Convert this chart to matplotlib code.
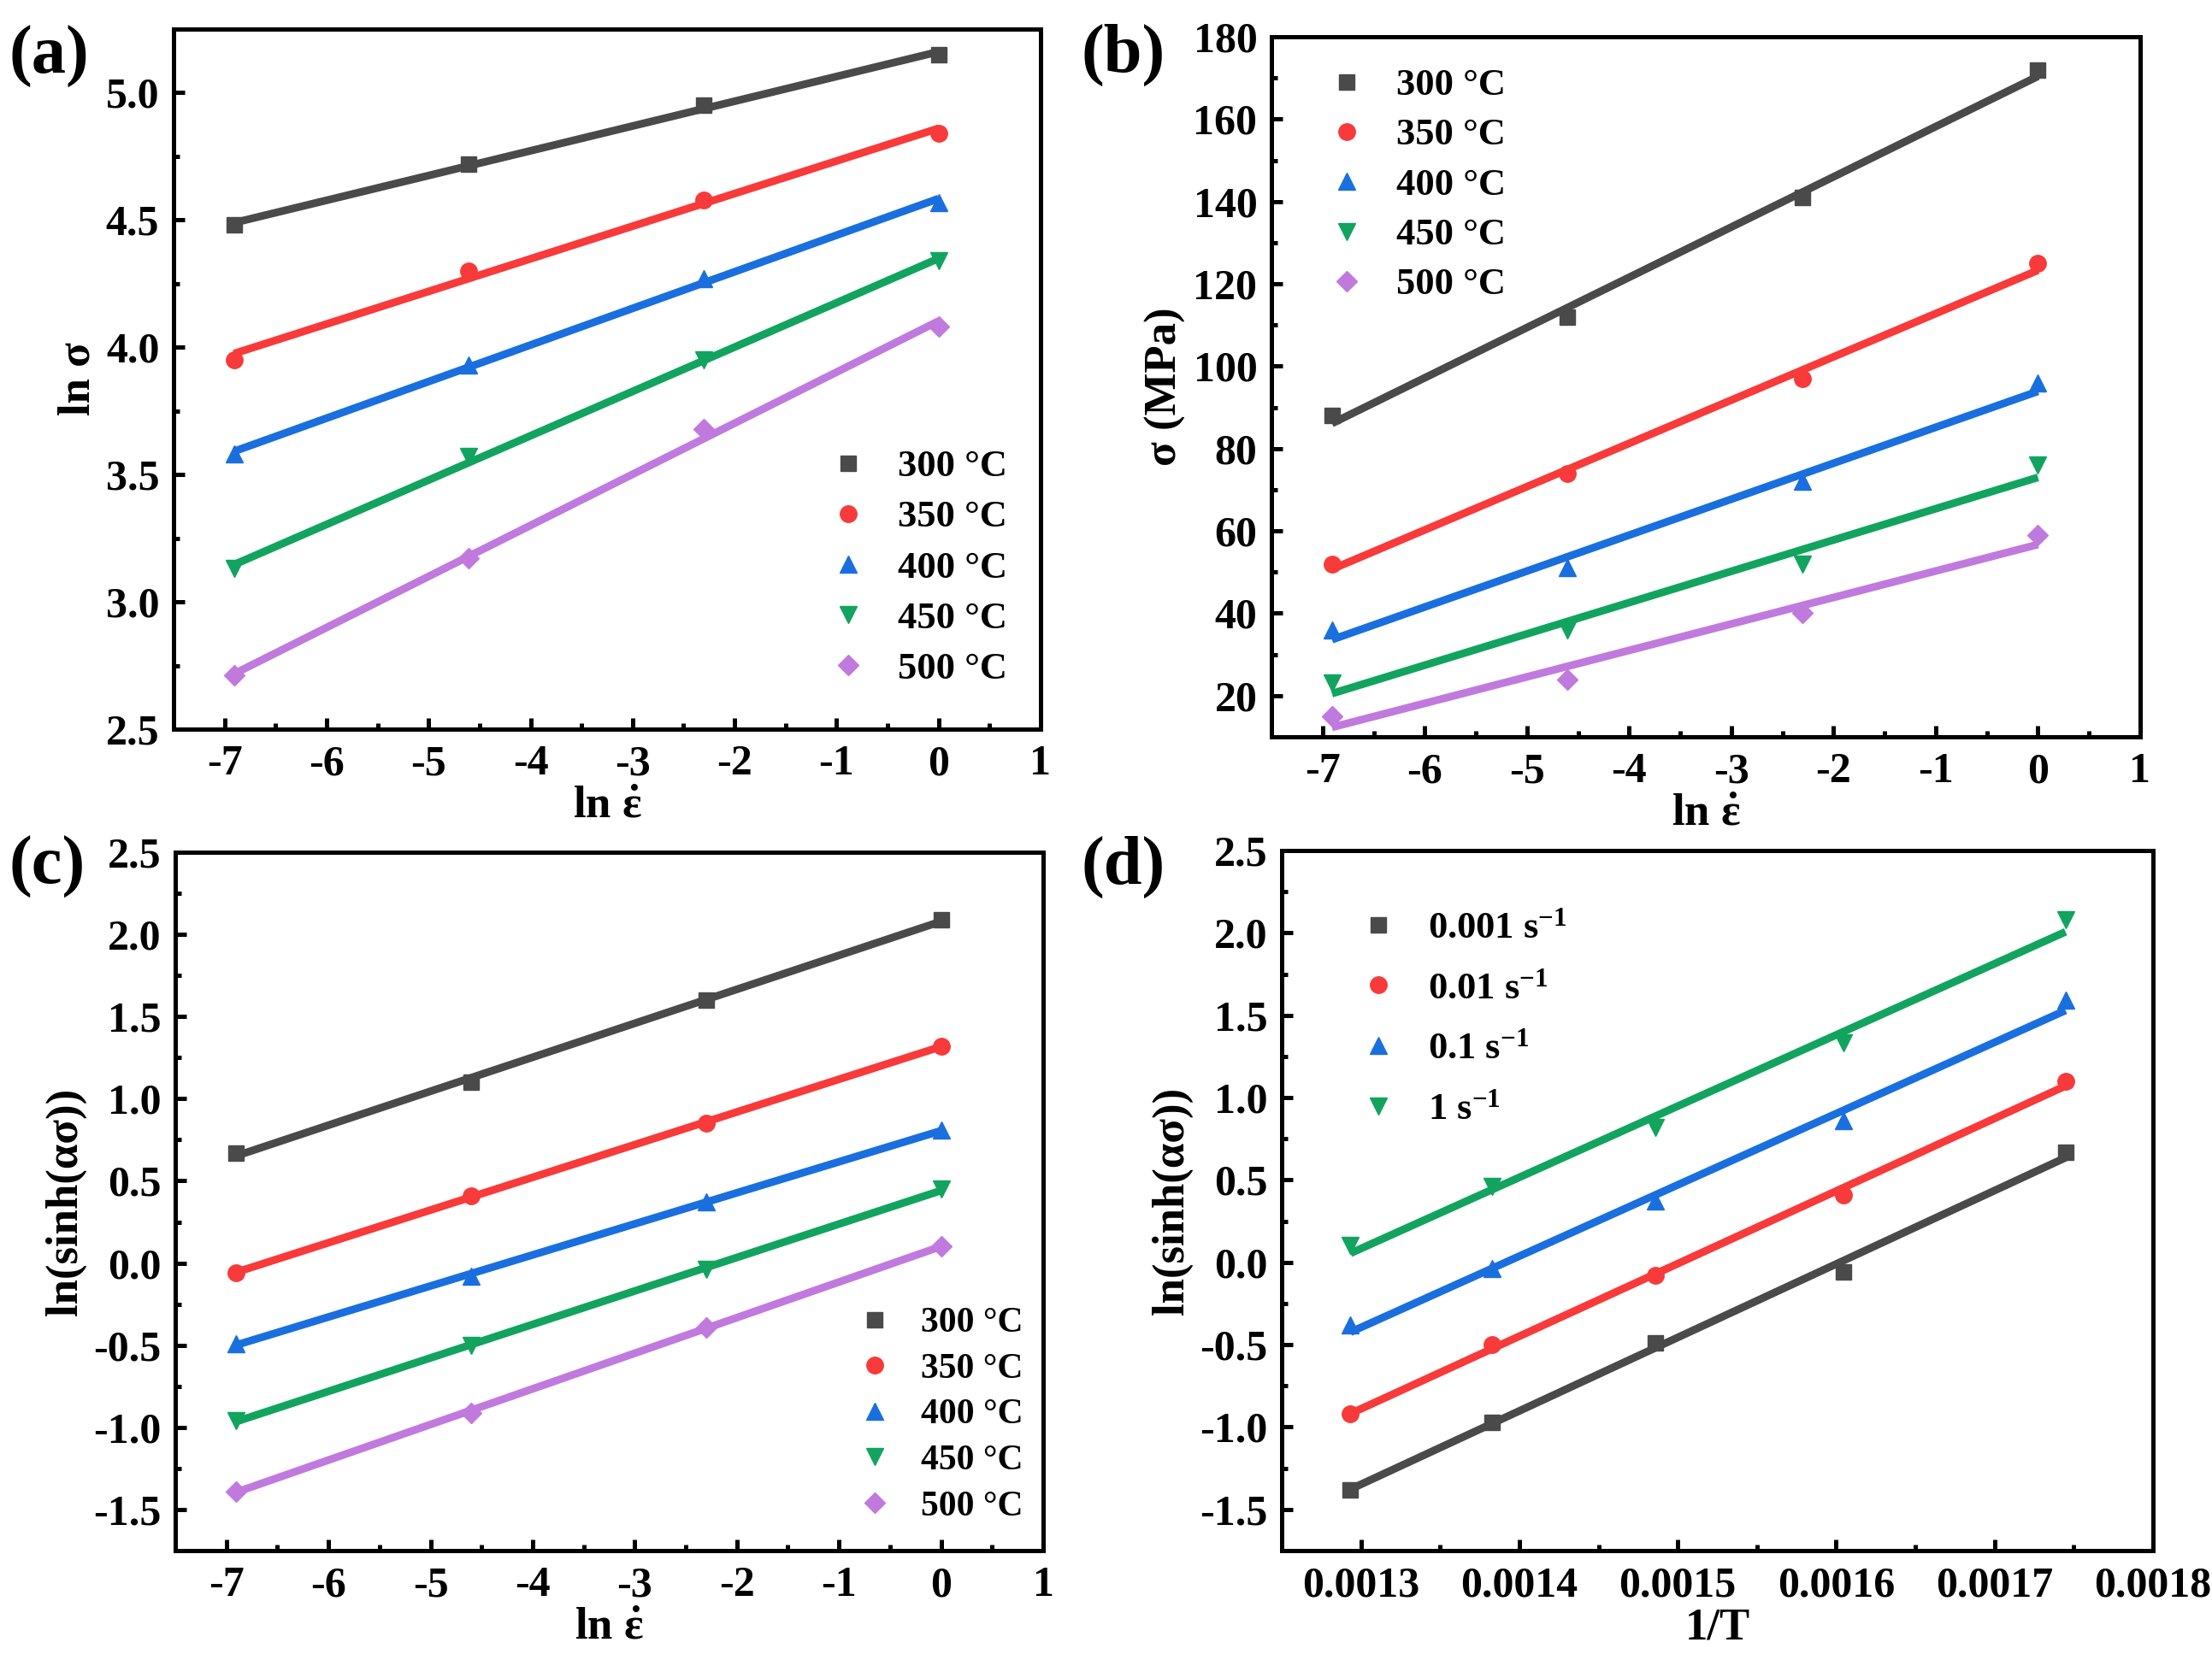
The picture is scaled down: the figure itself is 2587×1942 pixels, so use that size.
import numpy as np
import matplotlib
matplotlib.use("Agg")
import matplotlib.pyplot as plt
from matplotlib.ticker import MultipleLocator, AutoMinorLocator, FormatStrFormatter
from matplotlib.lines import Line2D

plt.rcParams['font.family'] = ['Liberation Serif', 'DejaVu Serif']
plt.rcParams['font.weight'] = 'bold'
plt.rcParams['axes.unicode_minus'] = False
plt.rcParams['mathtext.fontset'] = 'custom'
plt.rcParams['mathtext.rm'] = 'Liberation Serif:bold'
plt.rcParams['mathtext.it'] = 'Liberation Serif:bold'
plt.rcParams['mathtext.bf'] = 'Liberation Serif:bold'

# ---------------- data ----------------
ln_rate = [-6.908, -4.605, -2.303, 0.0]
temp_labels = ['300 °C', '350 °C', '400 °C', '450 °C', '500 °C']

# (a) ln sigma
lnsig_300 = [4.48, 4.72, 4.95, 5.15]
lnsig_350 = [3.95, 4.30, 4.58, 4.84]
lnsig_400 = [3.58, 3.93, 4.27, 4.57]
lnsig_450 = [3.13, 3.57, 3.95, 4.34]
lnsig_500 = [2.71, 3.17, 3.68, 4.08]

# (b) sigma (MPa)
sig_300 = [88, 112, 141, 172]
sig_350 = [52, 74, 97, 125]
sig_400 = [36, 51, 72, 96]
sig_450 = [23, 36, 52, 76]
sig_500 = [15, 24, 40, 59]

# (c) ln(sinh(alpha sigma)) vs ln strain rate
lns_300 = [0.67, 1.10, 1.60, 2.09]
lns_350 = [-0.06, 0.41, 0.85, 1.32]
lns_400 = [-0.49, -0.08, 0.37, 0.81]
lns_450 = [-0.96, -0.50, -0.04, 0.45]
lns_500 = [-1.39, -0.91, -0.39, 0.10]

# (d) ln(sinh(alpha sigma)) vs 1/T
inv_T = [0.0012934, 0.0013828, 0.0014856, 0.0016048, 0.0017448]
rate_labels = ['0.001 s$^{-1}$', '0.01 s$^{-1}$', '0.1 s$^{-1}$', '1 s$^{-1}$']
lnd_0001 = [-1.38, -0.97, -0.49, -0.06, 0.67]
lnd_001 = [-0.92, -0.50, -0.08, 0.41, 1.10]
lnd_01 = [-0.38, -0.04, 0.37, 0.86, 1.59]
lnd_1 = [0.10, 0.46, 0.82, 1.33, 2.08]

colors = ['#4a4a4a', '#f83a3a', '#1a6fdf', '#12a45e', '#c07ade']
markers = ['s', 'o', '^', 'v', 'D']
msizes = [13, 14, 15, 15, 12]

W, H = 2587, 1942
fig = plt.figure(figsize=(W / 100, H / 100), dpi=100)

def rect(l, r, t, b):
    return [l / W, (H - b) / H, (r - l) / W, (b - t) / H]

TICK_FS = 36
LABEL_FS = 38

def style(ax):
    for s in ax.spines.values():
        s.set_linewidth(3.6)
    ax.tick_params(which='both', direction='in', top=False, right=False,
                   labelsize=TICK_FS, width=3.6)
    ax.tick_params(which='major', length=9.5)
    ax.tick_params(which='minor', length=5)
    ax.tick_params(axis='x', which='major', pad=13)
    ax.tick_params(axis='y', which='major', pad=12)
    for lab in ax.get_xticklabels() + ax.get_yticklabels():
        lab.set_fontweight('bold')

def draw(ax, x, series, labels):
    handles = []
    xa = np.array(x)
    for i, y in enumerate(series):
        ya = np.array(y)
        p = np.polyfit(xa, ya, 1)
        xx = np.array([xa.min(), xa.max()])
        ax.plot(xx, np.polyval(p, xx), '-', color=colors[i], lw=6.5,
                solid_capstyle='butt', zorder=2)
        ax.plot(xa, ya, linestyle='none', marker=markers[i], ms=msizes[i],
                color=colors[i], mec=colors[i], zorder=3)
        handles.append(Line2D([], [], linestyle='none', marker=markers[i],
                              ms=msizes[i], color=colors[i], mec=colors[i],
                              label=labels[i]))
    return handles

def legend(ax, handles, left, top, fs, ls):
    ax.legend(handles=handles, loc='upper left',
              bbox_to_anchor=(left / W, 1 - top / H),
              bbox_transform=fig.transFigure, frameon=False, borderpad=0,
              borderaxespad=0, handlelength=1.0, handletextpad=0.8,
              labelspacing=ls, prop={'size': fs, 'weight': 'bold'})

# ---------- (a) ----------
axa = fig.add_axes(rect(203, 1217, 34, 853))
h = draw(axa, ln_rate, [lnsig_300, lnsig_350, lnsig_400, lnsig_450, lnsig_500], temp_labels)
axa.set_xlim(-7.5, 1)
axa.set_ylim(2.5, 5.25)
axa.xaxis.set_major_locator(MultipleLocator(1))
axa.xaxis.set_minor_locator(AutoMinorLocator(2))
axa.yaxis.set_major_locator(MultipleLocator(0.5))
axa.yaxis.set_minor_locator(AutoMinorLocator(2))
axa.yaxis.set_major_formatter(FormatStrFormatter('%.1f'))
axa.set_ylabel('ln σ', fontsize=LABEL_FS, fontweight='bold', labelpad=6)
axa.set_xlabel('ln $\\dot{ε}$', fontsize=LABEL_FS, fontweight='bold', labelpad=2)
style(axa)
legend(axa, h, 970, 526, 32, 0.43)

# ---------- (b) ----------
axb = fig.add_axes(rect(1487, 2503, 43, 862))
h = draw(axb, ln_rate, [sig_300, sig_350, sig_400, sig_450, sig_500], temp_labels)
axb.set_xlim(-7.5, 1)
axb.set_ylim(10, 180)
axb.xaxis.set_major_locator(MultipleLocator(1))
axb.xaxis.set_minor_locator(AutoMinorLocator(2))
axb.yaxis.set_major_locator(MultipleLocator(20))
axb.yaxis.set_minor_locator(AutoMinorLocator(2))
axb.set_ylabel('σ (MPa)', fontsize=LABEL_FS, fontweight='bold', labelpad=6)
axb.set_xlabel('ln $\\dot{ε}$', fontsize=LABEL_FS, fontweight='bold', labelpad=2)
style(axb)
legend(axb, h, 1553, 80, 32, 0.41)

# ---------- (c) ----------
axc = fig.add_axes(rect(205, 1220, 997, 1814))
h = draw(axc, ln_rate, [lns_300, lns_350, lns_400, lns_450, lns_500], temp_labels)
axc.set_xlim(-7.5, 1)
axc.set_ylim(-1.75, 2.5)
axc.xaxis.set_major_locator(MultipleLocator(1))
axc.xaxis.set_minor_locator(AutoMinorLocator(2))
axc.yaxis.set_major_locator(MultipleLocator(0.5))
axc.yaxis.set_minor_locator(AutoMinorLocator(2))
axc.yaxis.set_major_formatter(FormatStrFormatter('%.1f'))
axc.set_ylabel('ln(sinh(ασ))', fontsize=LABEL_FS, fontweight='bold', labelpad=6)
axc.set_xlabel('ln $\\dot{ε}$', fontsize=LABEL_FS, fontweight='bold', labelpad=2)
style(axc)
legend(axc, h, 1002, 1529, 30, 0.37)

# ---------- (d) ----------
axd = fig.add_axes(rect(1499, 2518, 995, 1814))
h = draw(axd, inv_T, [lnd_0001, lnd_001, lnd_01, lnd_1], rate_labels)
axd.set_xlim(0.00125, 0.0018)
axd.set_ylim(-1.75, 2.5)
axd.xaxis.set_major_locator(MultipleLocator(0.0001))
axd.xaxis.set_minor_locator(AutoMinorLocator(2))
axd.xaxis.set_major_formatter(FormatStrFormatter('%.4f'))
axd.yaxis.set_major_locator(MultipleLocator(0.5))
axd.yaxis.set_minor_locator(AutoMinorLocator(2))
axd.yaxis.set_major_formatter(FormatStrFormatter('%.1f'))
axd.set_ylabel('ln(sinh(ασ))', fontsize=LABEL_FS, fontweight='bold', labelpad=6)
axd.set_xlabel('1/T', fontsize=LABEL_FS, fontweight='bold', labelpad=2)
style(axd)
legend(axd, h, 1590, 1066, 32, 0.69)

# panel labels
for txt, x, y in [('(a)', 10, 66), ('(b)', 1265, 64), ('(c)', 10, 1014), ('(d)', 1265, 1014)]:
    fig.text(x / W, 1 - y / H, txt, fontsize=58, fontweight='bold',
             ha='left', va='center')

fig.savefig('out.png', dpi=100)
